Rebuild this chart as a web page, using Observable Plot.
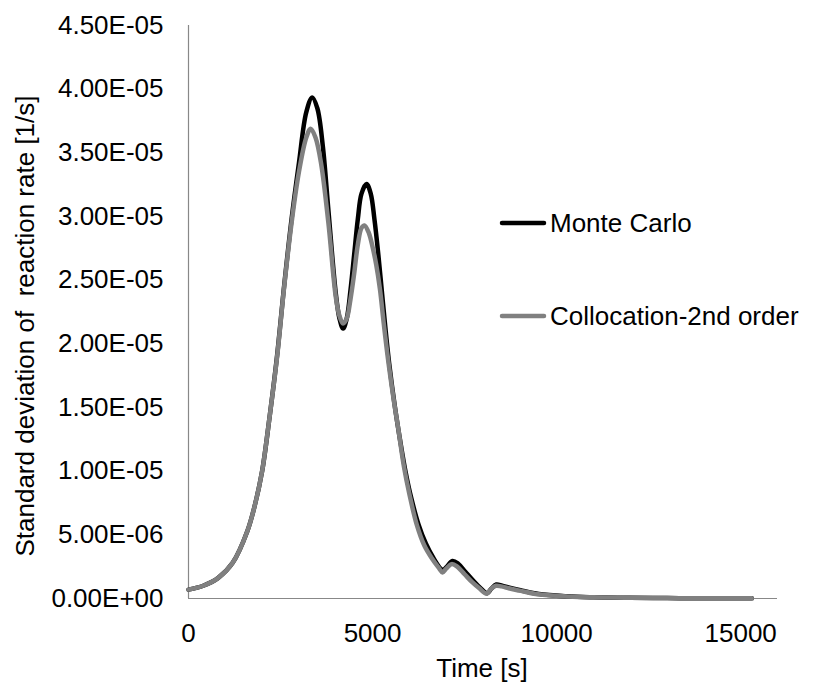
<!DOCTYPE html>
<html>
<head>
<meta charset="utf-8">
<script src="https://cdn.jsdelivr.net/npm/d3@7"></script>
<script src="https://cdn.jsdelivr.net/npm/@observablehq/plot@0.6"></script>
<style>
  html, body { margin: 0; padding: 0; background: #fff; }
  #chart { width: 816px; height: 688px; }
</style>
</head>
<body>
<div id="chart"></div>
<script>
// ---- data ----
const seriesNames = ["Monte Carlo", "Collocation-2nd order"];

const mcTime = [0, 400, 800, 1200, 1600, 1800, 2000, 2200, 2400, 2600, 2800, 3000, 3200, 3360, 3500, 3650, 3800, 4000, 4100, 4200, 4300, 4400, 4500, 4600, 4700, 4837, 4950, 5050, 5150, 5250, 5350, 5450, 5600, 5750, 5900, 6050, 6250, 6450, 6650, 6850, 6920, 7020, 7170, 7320, 7520, 7720, 7920, 8120, 8220, 8360, 8520, 8720, 9020, 9520, 10300, 11000, 12000, 13000, 14000, 15300];
const mcValue = [7.0e-7, 1.0e-6, 1.6e-6, 2.8e-6, 5.3e-6, 7.3e-6, 1.0e-5, 1.42e-5, 1.89e-5, 2.46e-5, 2.98e-5, 3.42e-5, 3.82e-5, 3.935e-5, 3.85e-5, 3.55e-5, 3.05e-5, 2.40e-5, 2.20e-5, 2.12e-5, 2.20e-5, 2.42e-5, 2.70e-5, 2.98e-5, 3.18e-5, 3.255e-5, 3.18e-5, 2.98e-5, 2.72e-5, 2.42e-5, 2.12e-5, 1.85e-5, 1.52e-5, 1.24e-5, 9.9e-6, 7.9e-6, 5.8e-6, 4.3e-6, 3.2e-6, 2.35e-6, 2.25e-6, 2.5e-6, 2.95e-6, 2.75e-6, 2.1e-6, 1.45e-6, 8.5e-7, 4.2e-7, 7.5e-7, 1.1e-6, 1.0e-6, 8.5e-7, 6.5e-7, 3.5e-7, 1.7e-7, 1.0e-7, 5.0e-8, 3.0e-8, 2.0e-8, 1.0e-8];

const colTime = [0, 400, 800, 1200, 1600, 1800, 2000, 2200, 2400, 2600, 2800, 3000, 3200, 3320, 3450, 3600, 3800, 4000, 4100, 4200, 4300, 4400, 4500, 4600, 4700, 4780, 4900, 5000, 5100, 5200, 5300, 5420, 5580, 5700, 5850, 6000, 6200, 6400, 6600, 6800, 6900, 7000, 7150, 7300, 7500, 7700, 7900, 8100, 8200, 8350, 8500, 8700, 9000, 9500, 10300, 11000, 12000, 13000, 14000, 15300];
const colValue = [7.0e-7, 1.0e-6, 1.6e-6, 2.8e-6, 5.3e-6, 7.3e-6, 1.0e-5, 1.42e-5, 1.88e-5, 2.45e-5, 2.95e-5, 3.35e-5, 3.62e-5, 3.69e-5, 3.62e-5, 3.42e-5, 2.95e-5, 2.37e-5, 2.22e-5, 2.16e-5, 2.20e-5, 2.35e-5, 2.55e-5, 2.78e-5, 2.91e-5, 2.93e-5, 2.87e-5, 2.76e-5, 2.62e-5, 2.43e-5, 2.17e-5, 1.88e-5, 1.55e-5, 1.33e-5, 1.04e-5, 8.2e-6, 5.8e-6, 4.2e-6, 3.2e-6, 2.4e-6, 2.05e-6, 2.35e-6, 2.7e-6, 2.5e-6, 1.9e-6, 1.3e-6, 8.0e-7, 3.8e-7, 7.0e-7, 1.0e-6, 9.5e-7, 8.0e-7, 6.2e-7, 3.3e-7, 1.6e-7, 9.0e-8, 5.0e-8, 3.0e-8, 2.0e-8, 1.0e-8];

const xTicks = [0, 5000, 10000, 15000];
const yTicks = [0, 5e-6, 1e-5, 1.5e-5, 2e-5, 2.5e-5, 3e-5, 3.5e-5, 4e-5, 4.5e-5];
const xTitle = "Time [s]";
const yTitle = "Standard deviation of  reaction rate [1/s]";

// ---- build tables ----
const mcData = mcTime.map((t, i) => ({t, v: mcValue[i], s: seriesNames[0]}));
const colData = colTime.map((t, i) => ({t, v: colValue[i], s: seriesNames[1]}));

const colors = {"Monte Carlo": "#000000", "Collocation-2nd order": "#808080"};
const FONT = "'Liberation Sans', Arial, Helvetica, sans-serif";

function fmtE(d) {
  const [m, e] = d.toExponential(2).split("e");
  const sign = e[0] === "-" ? "-" : "+";
  const digits = e.replace(/[+-]/, "").padStart(2, "0");
  return m + "E" + sign + digits;
}

const W = 816, H = 688;
const plot = Plot.plot({
  width: W,
  height: H,
  marginLeft: 188,
  marginRight: 39,
  marginTop: 25,
  marginBottom: 90,
  style: {fontSize: "26px", fontFamily: FONT, color: "#000", background: "#fff", overflow: "visible"},
  x: {domain: [0, 16000]},
  y: {domain: [0, 4.5e-5]},
  marks: [
    Plot.axisX({ticks: xTicks, tickSize: 0, tickPadding: 25, tickFormat: d => String(d), label: null}),
    Plot.axisY({ticks: yTicks, tickSize: 0, tickPadding: 25, tickFormat: fmtE, label: null}),
    Plot.ruleX([0], {stroke: "#888888", strokeWidth: 1.2}),
    Plot.ruleY([0], {stroke: "#888888", strokeWidth: 1.2}),
    Plot.line(mcData, {x: "t", y: "v", stroke: colors["Monte Carlo"], strokeWidth: 4.5, curve: "catmull-rom"}),
    Plot.line(colData, {x: "t", y: "v", stroke: colors["Collocation-2nd order"], strokeWidth: 4.5, curve: "catmull-rom"})
  ]
});

document.getElementById("chart").appendChild(plot);

const svg = d3.select(plot);
// axis titles
svg.append("text")
  .attr("x", 482).attr("y", 677)
  .attr("text-anchor", "middle")
  .style("font-family", FONT).style("font-size", "26px").attr("fill", "#000")
  .text(xTitle);
svg.append("text")
  .attr("transform", "translate(34,326) rotate(-90)")
  .attr("text-anchor", "middle")
  .style("font-family", FONT).style("font-size", "26px").style("white-space", "pre").attr("fill", "#000")
  .text(yTitle);

// legend
const legendY = [223, 316];
seriesNames.forEach((name, i) => {
  const g = svg.append("g");
  g.append("line")
    .attr("x1", 502).attr("x2", 544).attr("y1", legendY[i]).attr("y2", legendY[i])
    .attr("stroke", colors[name]).attr("stroke-width", 4.5).attr("stroke-linecap", "round");
  g.append("text")
    .attr("x", 550).attr("y", legendY[i]).attr("dy", "0.36em")
    .attr("text-anchor", "start")
    .style("font-family", FONT).style("font-size", "26px").attr("fill", "#000")
    .text(name);
});
</script>
</body>
</html>
